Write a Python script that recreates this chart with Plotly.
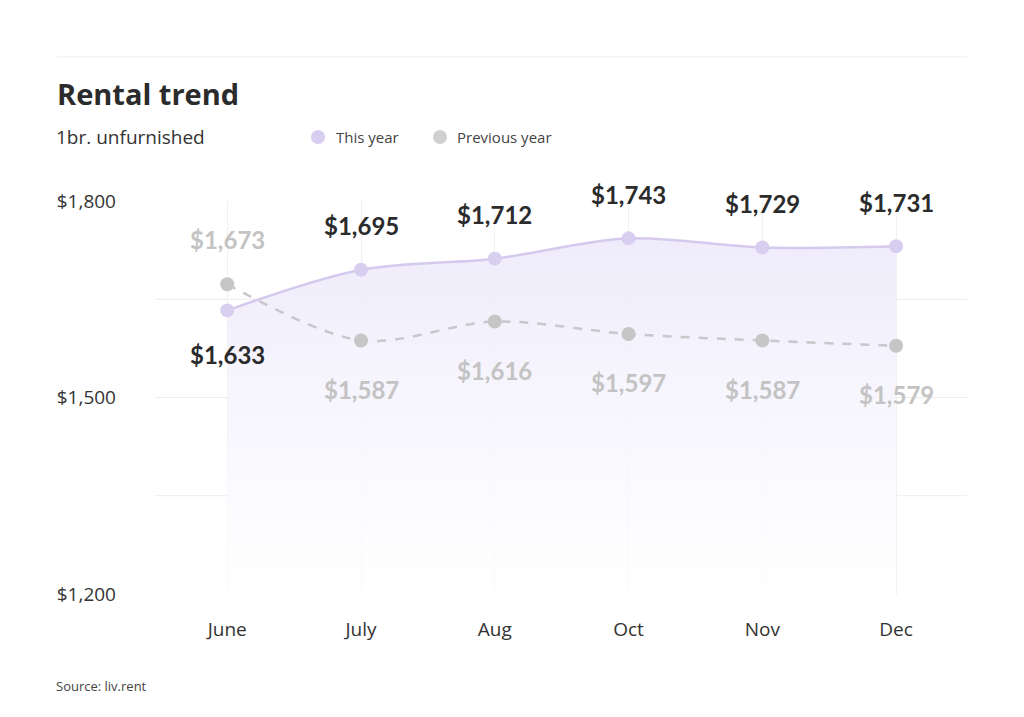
import plotly.graph_objects as go

months = ["June", "July", "Aug", "Oct", "Nov", "Dec"]
this_year = [1633, 1695, 1712, 1743, 1729, 1731]
prev_year = [1673, 1587, 1616, 1597, 1587, 1579]
y_tick_vals = [1200, 1500, 1800]
y_tick_text = ["$1,200", "$1,500", "$1,800"]

OFF = 8  # page body margin
W, H = 1024, 717
L = 155 - OFF
T = 201 - OFF
R = W - (967 - OFF)
B = H - (594 - OFF)
PW, PH = W - L - R, H - T - B

def px(x):
    return (x - OFF - L) / PW

def py(y):
    return (H - B - (y - OFF)) / PH

fig = go.Figure()

fig.add_trace(go.Scatter(
    x=months, y=this_year, mode="lines+markers",
    line=dict(color="#d5caee", width=2.5, shape="spline", smoothing=0.9),
    marker=dict(size=14, color="#d8ceef"),
    fill="tozeroy",
    fillgradient=dict(type="vertical", start=1200, stop=1743,
                      colorscale=[[0, "rgba(255,255,255,0.7)"], [1, "rgba(238,234,251,0.95)"]]),
    hoverinfo="skip", showlegend=False, cliponaxis=False,
))
fig.add_trace(go.Scatter(
    x=months, y=prev_year, mode="lines+markers",
    line=dict(color="#c9c6cc", width=2.5, dash="dash", shape="spline", smoothing=0.9),
    marker=dict(size=14, color="#c6c6c6"),
    hoverinfo="skip", showlegend=False, cliponaxis=False,
))

label_font = "Lato, 'Open Sans', sans-serif"
for i, (m, v) in enumerate(zip(months, this_year)):
    fig.add_annotation(x=m, y=v, text=f"<b>${v:,}</b>", showarrow=False,
                       yshift=(-44 if i == 0 else 44),
                       font=dict(family=label_font, size=24, color="#2b2b2b"))
for i, (m, v) in enumerate(zip(months, prev_year)):
    fig.add_annotation(x=m, y=v, text=f"<b>${v:,}</b>", showarrow=False,
                       yshift=(45 if i == 0 else -49),
                       font=dict(family=label_font, size=24, color="#c3c3c3"))

main_font = "'Open Sans', sans-serif"
fig.add_annotation(xref="paper", yref="paper", x=px(55), y=py(93), xanchor="left", yanchor="middle",
                   text="<b>Rental trend</b>", showarrow=False,
                   font=dict(family=main_font, size=29, color="#2b2b2b"))
fig.add_annotation(xref="paper", yref="paper", x=px(54), y=py(137), xanchor="left", yanchor="middle",
                   text="1br. unfurnished", showarrow=False,
                   font=dict(family=main_font, size=19, color="#333333"))
fig.add_annotation(xref="paper", yref="paper", x=px(334), y=py(137), xanchor="left", yanchor="middle",
                   text="This year", showarrow=False,
                   font=dict(family=main_font, size=15, color="#444444"))
fig.add_annotation(xref="paper", yref="paper", x=px(455), y=py(137), xanchor="left", yanchor="middle",
                   text="Previous year", showarrow=False,
                   font=dict(family=main_font, size=15, color="#444444"))
fig.add_annotation(xref="paper", yref="paper", x=px(54), y=py(686), xanchor="left", yanchor="middle",
                   text="Source: liv.rent", showarrow=False,
                   font=dict(family=main_font, size=13, color="#444444"))

for cx, col in [(318, "#d8ceef"), (440, "#d0d0d0")]:
    fig.add_shape(type="circle", xref="paper", yref="paper",
                  xsizemode="pixel", ysizemode="pixel",
                  xanchor=px(cx), yanchor=py(137),
                  x0=-7, x1=7, y0=-7, y1=7,
                  fillcolor=col, line=dict(width=0))

fig.add_shape(type="line", xref="paper", yref="paper",
              x0=px(57), x1=px(967), y0=py(57), y1=py(57),
              line=dict(color="#ececec", width=1))

for yv in [1350, 1650]:
    fig.add_shape(type="line", xref="paper", yref="y", x0=0, x1=1, y0=yv, y1=yv,
                  line=dict(color="#ededed", width=1), layer="below")

fig.update_layout(
    width=W, height=H,
    margin=dict(l=L, r=R, t=T, b=B),
    plot_bgcolor="white", paper_bgcolor="white",
    font=dict(family=main_font),
    xaxis=dict(range=[-0.54, 5.53], showgrid=True, gridcolor="#f1f1f1", gridwidth=1,
               zeroline=False, showline=False, ticks="",
               tickfont=dict(family=main_font, size=19, color="#333333"),
               ticklabelstandoff=22),
    yaxis=dict(range=[1200, 1800], tickvals=y_tick_vals, ticktext=y_tick_text,
               showgrid=True, gridcolor="#ededed", gridwidth=1, zeroline=False,
               showline=False, ticks="",
               tickfont=dict(family=main_font, size=19, color="#333333"),
               ticklabelstandoff=38),
    hovermode=False,
)

fig.write_html("out.html")
